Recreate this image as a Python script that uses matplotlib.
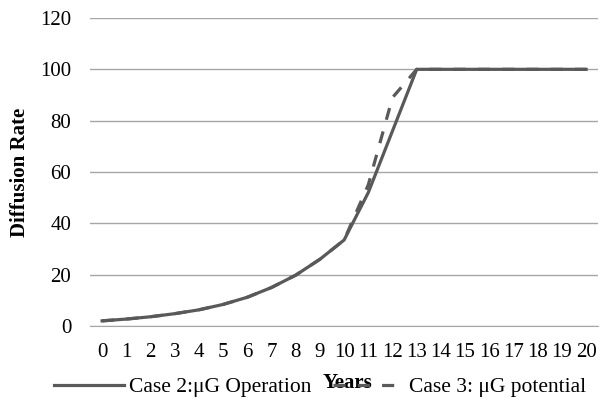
import matplotlib
matplotlib.use("Agg")
import matplotlib.pyplot as plt

years = list(range(21))
case2 = [2, 2.7, 3.6, 4.8, 6.3, 8.4, 11.2, 15, 19.8, 26, 33.5, 52, 76,
         100, 100, 100, 100, 100, 100, 100, 100]
case3 = [2, 2.7, 3.6, 4.8, 6.3, 8.4, 11.2, 15, 19.8, 26, 33.5, 55, 89,
         100, 100, 100, 100, 100, 100, 100, 100]

plt.rcParams['font.family'] = ['Liberation Serif', 'DejaVu Serif']
plt.rcParams['font.size'] = 15

fig = plt.figure(figsize=(6, 4), dpi=100)
# plot area: x 90..598 px, y 18..326 px
ax = fig.add_axes([0.15, 0.185, 0.847, 0.77])

col = '#595959'
l2, = ax.plot(years, case2, color=col, lw=2.3, label='Case 2:μG Operation', zorder=3)
l3, = ax.plot(years, case3, color=col, lw=2.3, ls=(0, (3.8, 3.8)),
              label='Case 3: μG potential', zorder=2)

ax.set_xlim(-0.5, 20.5)
ax.set_ylim(0, 120)
ax.set_yticks(range(0, 121, 20))
ax.set_xticks(years)
ax.grid(axis='y', color='#a6a6a6', lw=1)
ax.set_axisbelow(True)
for s in ['top', 'right', 'left']:
    ax.spines[s].set_visible(False)
ax.spines['bottom'].set_color('#a6a6a6')
ax.tick_params(length=0, labelsize=15, colors='black')
ax.tick_params(axis='y', pad=13.5)
ax.tick_params(axis='x', pad=12)

fig.text(20 / 600, 1 - 172 / 400, 'Diffusion Rate', fontweight='bold', fontsize=15,
         rotation=90, ha='center', va='center')
fig.legend(handles=[l2, l3], loc='center', bbox_to_anchor=(320 / 600, 1 - 387 / 400),
           ncol=2, frameon=False, handlelength=3.25, handletextpad=0.25,
           columnspacing=1.0, fontsize=15.5, borderpad=0, borderaxespad=0)
fig.text(347 / 600, 1 - 383 / 400, 'Years', fontweight='bold', fontsize=15,
         ha='center', va='center')

fig.savefig('out.png', dpi=100)
